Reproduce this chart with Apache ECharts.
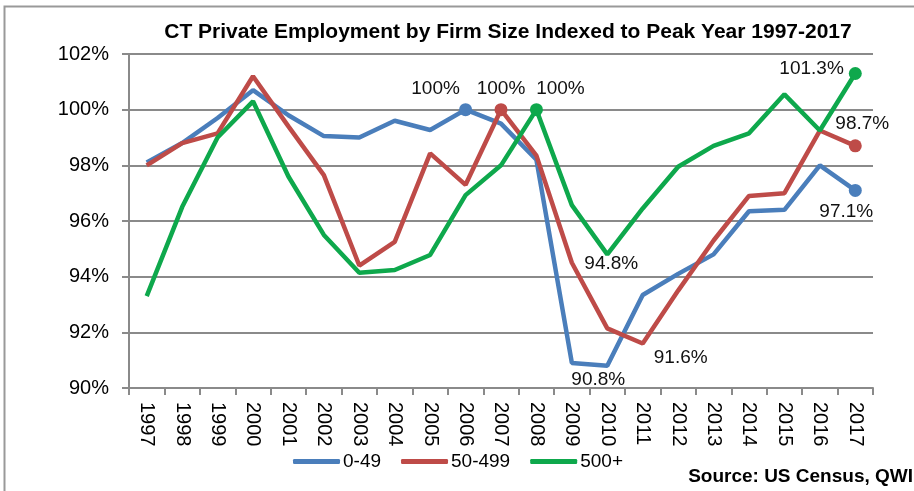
<!DOCTYPE html>
<html>
<head>
<meta charset="utf-8">
<script src="https://cdn.jsdelivr.net/npm/echarts@6/dist/echarts.min.js"></script>
<style>
  html, body { margin: 0; padding: 0; background: #fff; }
  #chart { width: 914px; height: 491px; }
</style>
</head>
<body>
<div id="chart"></div>
<script>
// Years on the x axis
const years = ["1997", "1998", "1999", "2000", "2001", "2002", "2003", "2004", "2005", "2006", "2007",
  "2008", "2009", "2010", "2011", "2012", "2013", "2014", "2015", "2016", "2017"]

// Employment indexed to each series' peak year (percent)
const small = [98.1, 98.8, 99.7, 100.7, 99.8, 99.05, 99.0, 99.6, 99.27, 100, 99.5,
  98.2, 90.9, 90.8, 93.34, 94.1, 94.8, 96.35, 96.4, 98.0, 97.1]
const medium = [98.0, 98.8, 99.15, 101.2, 99.4, 97.65, 94.4, 95.25, 98.43, 97.3, 100,
  98.35, 94.5, 92.14, 91.6, 93.5, 95.3, 96.9, 97.0, 99.25, 98.7]
const large = [93.3, 96.5, 99.0, 100.3, 97.6, 95.5, 94.14, 94.24, 94.78, 96.93, 98.0,
  100, 96.57, 94.8, 96.45, 97.95, 98.7, 99.15, 100.55, 99.25, 101.3]

const seriesNames = ["0-49", "50-499", "500+"]
const yTicks = [90, 92, 94, 96, 98, 100, 102]

const colors = ["#4A7EBB", "#BE4B48", "#0EA84C"]

// per-series point decorations: index -> [marker?, label position, offset]
const marks = [
  { 9: [true, "top", [-30, 0]], 13: [false, "bottom", [-9, 0]], 20: [true, "bottom", [-9, 0]] },
  { 10: [true, "top", [0, 0]], 14: [false, "bottom", [38, 0]], 20: [true, "top", [7, -1]] },
  { 11: [true, "top", [24, 0]], 13: [false, "bottom", [4, -5]], 20: [true, "left", [0, -5]] },
]

function buildData(values, m, color) {
  return values.map((v, i) => {
    const d = m[i]
    if (!d) return v
    return {
      value: v,
      symbol: "circle",
      symbolSize: d[0] ? 13 : 0,
      itemStyle: { color },
      label: {
        show: true,
        position: d[1],
        offset: d[2],
        distance: 5,
        formatter: (p) => p.value + "%",
        color: "#111",
        fontSize: 19,
        fontFamily: "Liberation Sans",
      },
    }
  })
}

const chart = echarts.init(document.getElementById("chart"), null, { renderer: "canvas" })

const lines = [small, medium, large]

chart.setOption({
  backgroundColor: "#fff",
  animation: false,
  title: {
    text: "CT Private Employment by Firm Size Indexed to Peak Year 1997-2017",
    left: 503,
    textAlign: "center",
    top: 17,
    textStyle: { color: "#000", fontSize: 21, fontWeight: "bold", fontFamily: "Liberation Sans" },
  },
  graphic: [
    {
      type: "rect",
      shape: { x: 4.5, y: 6.5, width: 1000, height: 600 },
      style: { fill: "none", stroke: "#999", lineWidth: 2 },
    },
    {
      type: "text",
      right: 1,
      top: 467,
      style: {
        text: "Source: US Census, QWI",
        fill: "#000",
        font: "bold 19px Liberation Sans",
      },
    },
  ],
  legend: {
    left: 288,
    top: 447,
    icon: "roundRect",
    itemWidth: 47,
    itemHeight: 5,
    itemGap: 20,
    data: seriesNames,
    textStyle: { color: "#000", fontSize: 19, fontFamily: "Liberation Sans", padding: [0, 0, 0, -2] },
  },
  grid: { left: 129, right: 41, top: 54, bottom: 103 },
  xAxis: {
    type: "category",
    data: years,
    boundaryGap: true,
    axisLine: { lineStyle: { color: "#8a8a8a", width: 2 } },
    axisTick: { show: true, length: 7, lineStyle: { color: "#8a8a8a", width: 2 } },
    axisLabel: {
      rotate: -90,
      margin: 14,
      interval: 0,
      color: "#000",
      fontSize: 20,
      fontFamily: "Liberation Sans",
    },
  },
  yAxis: {
    type: "value",
    min: yTicks[0],
    max: yTicks[yTicks.length - 1],
    interval: 2,
    axisLine: { show: true, lineStyle: { color: "#8a8a8a", width: 2 } },
    axisTick: { show: true, length: 7, lineStyle: { color: "#8a8a8a", width: 2 } },
    axisLabel: {
      margin: 20,
      color: "#000",
      fontSize: 20,
      fontFamily: "Liberation Sans",
      formatter: (v) => v + "%",
    },
    splitLine: { lineStyle: { color: "#8a8a8a", width: 2 } },
  },
  series: lines.map((vals, k) => ({
    name: seriesNames[k],
    type: "line",
    data: buildData(vals, marks[k], colors[k]),
    symbol: "none",
    color: colors[k],
    lineStyle: { color: colors[k], width: 4.5 },
    itemStyle: { color: colors[k] },
    z: 2 + k,
  })),
})
</script>
</body>
</html>
